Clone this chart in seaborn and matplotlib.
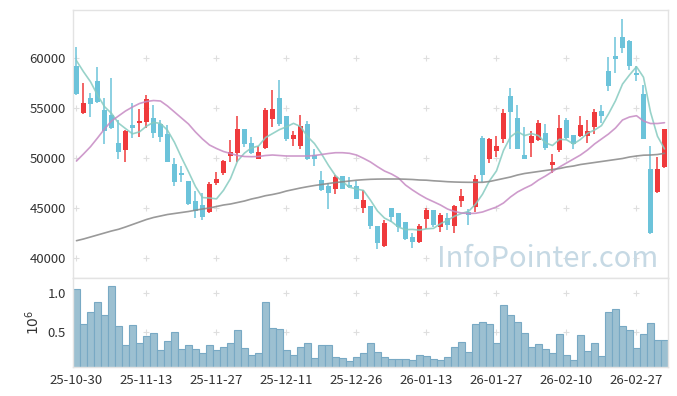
import numpy as np
import pandas as pd
import matplotlib
matplotlib.use("Agg")
import matplotlib.pyplot as plt
import seaborn as sns

# candle data (price), 85 trading days
opens = [59200, 54530, 56000, 57730, 54800, 54300, 51470, 50800, 53300, 53500,
         53630, 54030, 53430, 52400, 49400, 48530, 47700, 45700, 45300, 44630,
         47530, 48530, 50200, 50530, 52900, 51470, 49930, 51030, 53930, 56000,
         54200, 51930, 51230, 53400, 50300, 47800, 47230, 46930, 48200, 47270,
         47200, 45030, 45200, 43200, 41200, 44970, 44470, 43600, 42100, 41630,
         43930, 44800, 43130, 43970, 43200, 45700, 44630, 45130, 52030, 49930,
         50730, 51900, 56200, 54000, 50270, 51530, 51800, 52530, 49330, 50800,
         53800, 52300, 52230, 52200, 53130, 54700, 58730, 60200, 62130, 61700,
         58470, 56400, 48930, 46630, 49070]
closes = [56400, 55500, 55430, 55630, 52730, 53030, 50630, 52700, 53000, 53700,
          55900, 52530, 52130, 49630, 47630, 48330, 45430, 44700, 44130, 47400,
          47900, 49700, 50570, 52900, 51400, 50530, 50570, 54800, 54900, 53400,
          51930, 52300, 53200, 49900, 49870, 46800, 46530, 48070, 46930, 47070,
          45900, 45800, 43200, 41530, 43530, 44130, 43070, 41930, 41630, 43170,
          44800, 43270, 44300, 43300, 45200, 46200, 44300, 47870, 48300, 51900,
          51200, 54530, 54630, 50930, 49930, 52200, 53500, 51000, 49630, 53030,
          51970, 51370, 53300, 52700, 54630, 54200, 57200, 59900, 61030, 59200,
          58330, 51930, 42470, 48930, 52900]
highs = [61100, 57500, 56500, 59070, 55970, 57970, 53800, 52800, 55470, 54900,
         56300, 55300, 53800, 53300, 49970, 49230, 47700, 46730, 46470, 47630,
         48570, 49800, 51800, 54200, 52900, 52130, 51230, 54970, 56800, 57800,
         54200, 52700, 54300, 53700, 50870, 48670, 47470, 48300, 48200, 48070,
         47730, 46800, 45200, 43200, 43800, 44970, 44470, 43600, 42470, 43370,
         44970, 44800, 44470, 44470, 45300, 46870, 44870, 48300, 52200, 51970,
         52200, 54900, 56970, 55300, 53070, 52730, 53800, 53400, 50400, 54300,
         53970, 52300, 54200, 53800, 54870, 55300, 60070, 62130, 63870, 61850,
         59200, 57300, 51200, 50130, 52900]
lows = [56300, 54400, 54130, 55470, 51400, 52900, 49870, 49630, 51970, 52130,
        52970, 51970, 51630, 49630, 47230, 47630, 45300, 43970, 43800, 44530,
        47300, 48300, 49630, 49570, 51130, 50400, 49930, 50900, 53130, 53200,
        51670, 51230, 50870, 49830, 49230, 46750, 44870, 46370, 46900, 46970,
        45900, 44470, 42870, 40870, 41070, 43630, 42570, 41800, 40970, 41470,
        42930, 43130, 42570, 42800, 42530, 45130, 43300, 44630, 47630, 49470,
        50130, 51470, 50870, 50900, 49900, 50130, 51700, 50800, 48530, 50630,
        51900, 50870, 52150, 51470, 52400, 53470, 56700, 58470, 60470, 58800,
        57730, 51900, 42400, 46550, 49000]

# closes of the 4 days before the first candle (for the 5-day average)
pre_closes = [61000, 60430, 62280, 58540]

ma20 = [49700, 50400, 51130, 52000, 52900, 53700, 54200, 54700, 55100, 55450,
        55650, 55750, 55700, 55200, 54600, 54000, 53400, 52600, 51900, 51300,
        50950, 50650, 50450, 50250, 50150, 50130, 50150, 50250, 50300, 50250,
        50200, 50200, 50200, 50200, 50250, 50350, 50450, 50530, 50530, 50470,
        50300, 49970, 49600, 49130, 48700, 48400, 48000, 47300, 46800, 46350,
        45950, 45630, 45300, 44900, 44650, 44500, 44450, 44470, 44600, 44850,
        45100, 45500, 46100, 46600, 46970, 47300, 47800, 48200, 48650, 49100,
        49500, 49900, 50300, 50800, 51400, 51900, 52400, 53000, 53800, 54100,
        54230, 53700, 53450, 53450, 53530]
ma60 = [41730, 41900, 42100, 42300, 42500, 42700, 42870, 43100, 43350, 43600,
        43850, 44050, 44200, 44350, 44450, 44550, 44650, 44780, 44900, 45000,
        45150, 45300, 45400, 45550, 45700, 45900, 46050, 46230, 46350, 46500,
        46700, 46850, 47000, 47130, 47250, 47350, 47450, 47550, 47620, 47700,
        47780, 47830, 47870, 47890, 47900, 47900, 47900, 47880, 47850, 47800,
        47780, 47720, 47680, 47630, 47600, 47580, 47570, 47570, 47570, 47650,
        47800, 47950, 48100, 48300, 48450, 48550, 48650, 48750, 48850, 48950,
        49100, 49200, 49350, 49450, 49550, 49650, 49750, 49850, 49950, 50100,
        50200, 50280, 50300, 50350, 50470]

# volume in millions
volume = [1.052, 0.600, 0.752, 0.883, 0.717, 1.096, 0.574, 0.326, 0.587, 0.352,
          0.443, 0.483, 0.261, 0.378, 0.496, 0.274, 0.322, 0.274, 0.222, 0.322,
          0.261, 0.296, 0.352, 0.517, 0.287, 0.196, 0.222, 0.887, 0.543, 0.530,
          0.261, 0.196, 0.296, 0.352, 0.157, 0.322, 0.322, 0.165, 0.152, 0.117,
          0.165, 0.217, 0.348, 0.230, 0.165, 0.139, 0.139, 0.139, 0.126, 0.191,
          0.178, 0.139, 0.126, 0.165, 0.296, 0.361, 0.230, 0.600, 0.622, 0.600,
          0.348, 0.848, 0.717, 0.622, 0.483, 0.296, 0.339, 0.270, 0.217, 0.470,
          0.191, 0.126, 0.457, 0.248, 0.348, 0.178, 0.752, 0.791, 0.570, 0.517,
          0.283, 0.465, 0.609, 0.387, 0.387]

tick_pos = [0, 10, 20, 30, 40, 50, 60, 70, 80]
tick_labels = ["25-10-30", "25-11-13", "25-11-27", "25-12-11", "25-12-26",
               "26-01-13", "26-01-27", "26-02-10", "26-02-27"]

UP = "#ef3a3c"
DOWN = "#6cc3da"

df = pd.DataFrame({"open": opens, "close": closes, "high": highs, "low": lows,
                   "ma20": ma20, "ma60": ma60, "volume": volume})
df["idx"] = np.arange(len(df))
allc = pd.Series(pre_closes + closes)
df["ma5"] = allc.rolling(5).mean().iloc[len(pre_closes):].values
df["up"] = df["close"] >= df["open"]

sns.set_theme(style="white")
plt.rcParams["font.family"] = ["Noto Sans CJK KR", "DejaVu Sans"]

fig = plt.figure(figsize=(6.77, 3.96), dpi=100)
ax = fig.add_axes([0.1078, 0.298, 0.8789, 0.6767])
axv = fig.add_axes([0.1078, 0.0735, 0.8789, 0.2245], sharex=ax)

# candles
colors = np.where(df["up"], UP, DOWN)
ax.vlines(df["idx"], df["low"], df["high"], colors=colors, linewidth=1.1, zorder=2)
body_lo = np.minimum(df["open"], df["close"])
body_h = np.maximum(np.abs(df["close"] - df["open"]), 180)
ax.bar(df["idx"], body_h, bottom=body_lo, width=0.66, color=colors,
       linewidth=0, zorder=3)

# moving averages
sns.lineplot(data=df, x="idx", y="ma5", ax=ax, color="#86cbc0", linewidth=1.2,
             alpha=0.85, zorder=4)
sns.lineplot(data=df, x="idx", y="ma20", ax=ax, color="#c68ac3", linewidth=1.2,
             alpha=0.85, zorder=4)
sns.lineplot(data=df, x="idx", y="ma60", ax=ax, color="#888888", linewidth=1.2,
             alpha=0.85, zorder=4)

ax.text(0.983, 0.042, "InfoPointer.com", transform=ax.transAxes, ha="right",
        va="baseline", fontsize=21, color="#c6d9e4", zorder=1)

# volume
sns.barplot(data=df, x="idx", y="volume", ax=axv, native_scale=True, width=1.0,
            color="#9cc0d1", edgecolor="#78a9c4", linewidth=0.8, saturation=1)

ax.set_xlim(-0.5, len(df) - 0.5)
ax.set_ylim(38000, 64800)
axv.set_ylim(0.04, 1.2)

ax.set_yticks([40000, 45000, 50000, 55000, 60000])
axv.set_yticks([0.5, 1.0])
axv.set_yticklabels(["0.5", "1.0"])
axv.set_xticks(tick_pos)
axv.set_xticklabels(tick_labels)

for a in (ax, axv):
    a.set_xlabel("")
    a.set_ylabel("")
    a.tick_params(length=0, labelsize=9.5, colors="#333333", pad=5)
    for s in a.spines.values():
        s.set_color("#e3e3e3")
        s.set_linewidth(1)
    # faint crosses where the grid lines meet
    gx, gy = np.meshgrid(tick_pos, a.get_yticks())
    a.scatter(gx.ravel(), gy.ravel(), marker="+", s=14, color="#dedede",
              linewidths=0.8, zorder=0)
plt.setp(ax.get_xticklabels(), visible=False)
axv.set_ylabel(r"$10^6$", fontsize=10, color="#333333", labelpad=4)

fig.savefig("out.png", dpi=100)
